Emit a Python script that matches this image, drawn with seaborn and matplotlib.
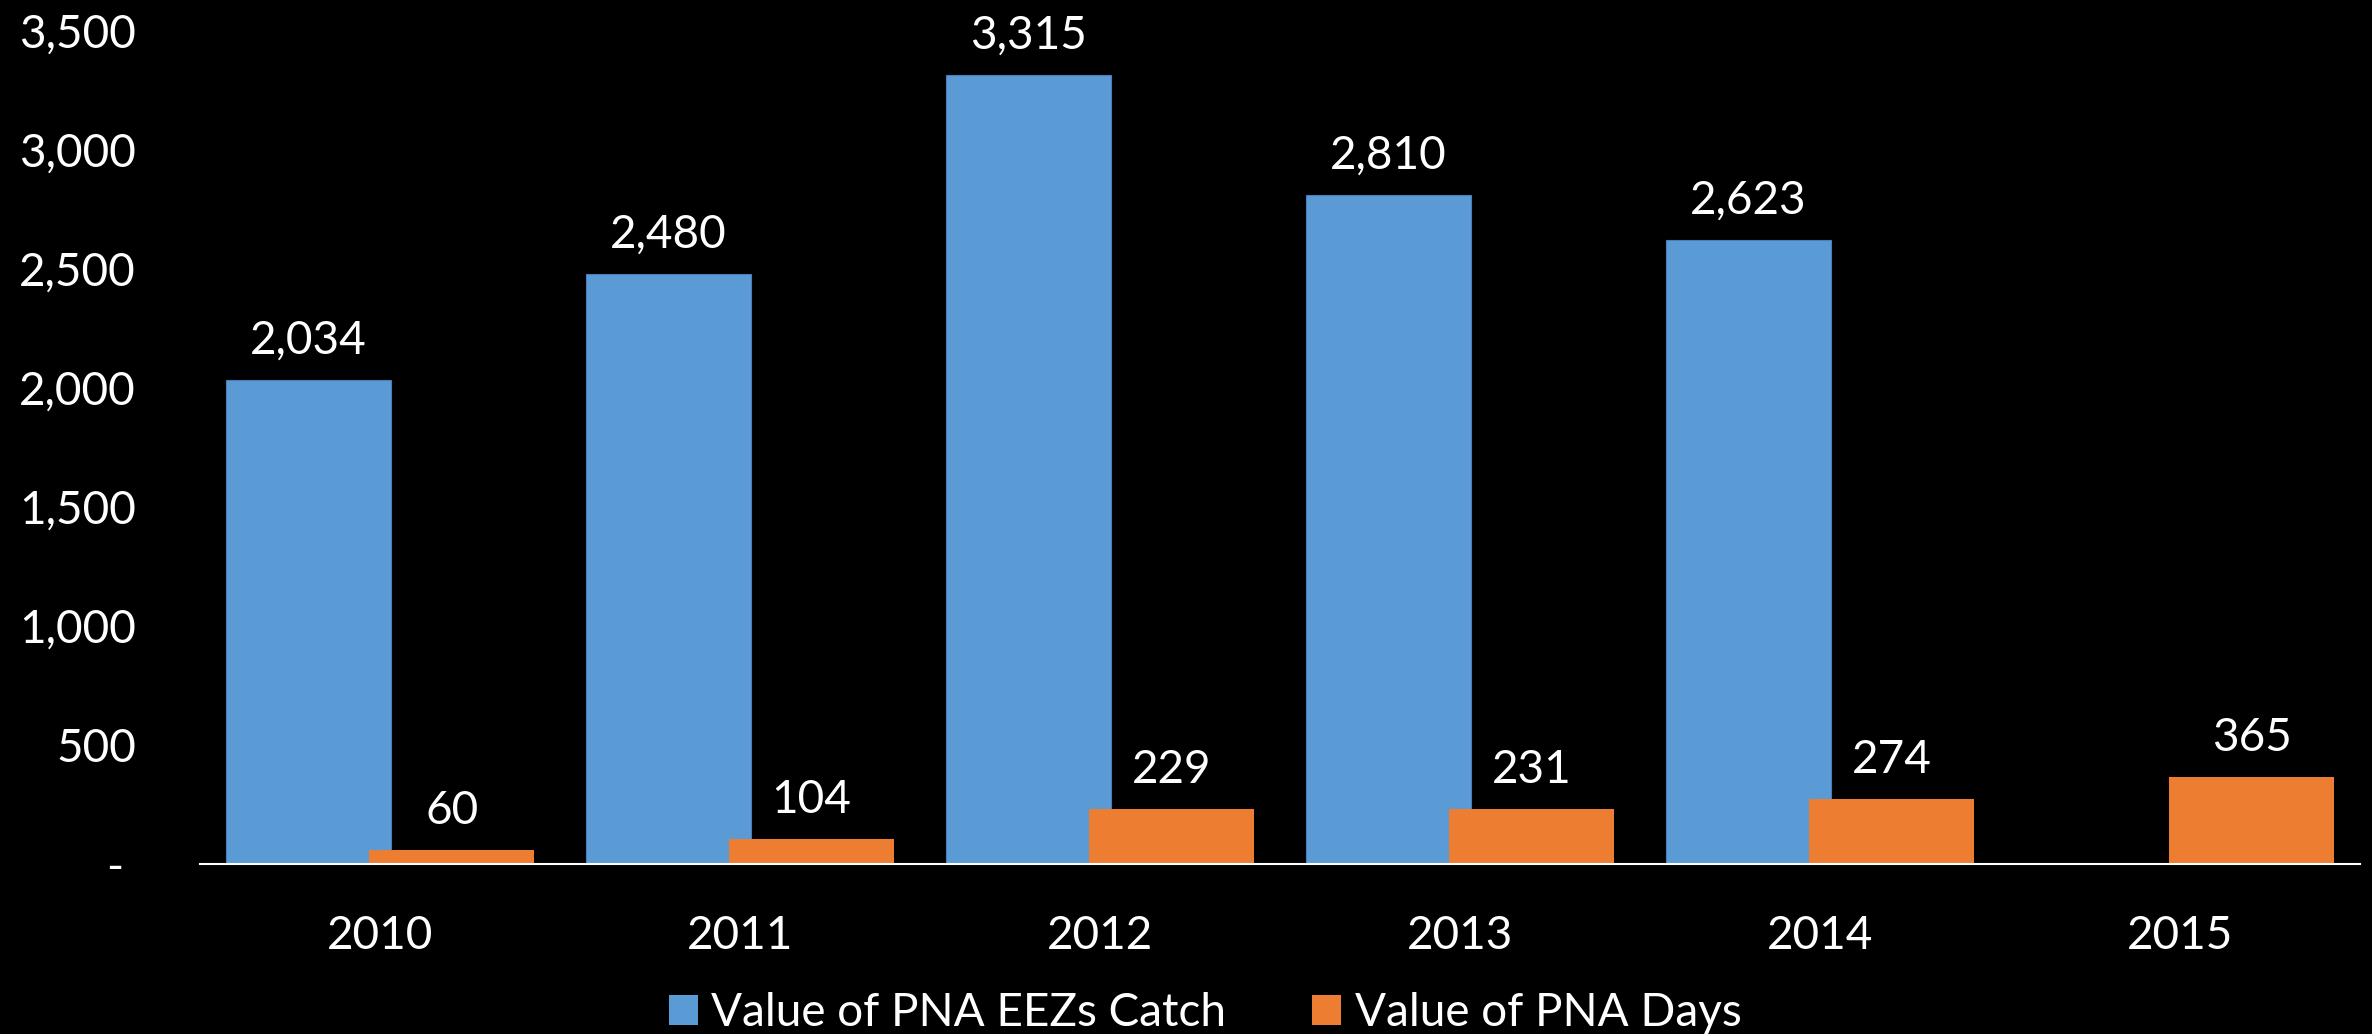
import numpy as np
import pandas as pd
import matplotlib
matplotlib.use("Agg")
import matplotlib.pyplot as plt
import seaborn as sns

# values
years = ['2010', '2011', '2012', '2013', '2014', '2015']
eez_catch = [2034, 2480, 3315, 2810, 2623, np.nan]
pna_days = [60, 104, 229, 231, 274, 365]
series_names = ['Value of PNA EEZs Catch', 'Value of PNA Days']
series_colors = ['#5B9BD5', '#ED7D31']
y_ticks = [0, 500, 1000, 1500, 2000, 2500, 3000, 3500]

settings = {
    'figsize': (23.72, 10.34),
    'dpi': 100,
    'face_color': 'black',
    'font_color': 'white',
    'font_size': 33,
    'bar_width': 0.458,
}

sns.set_style('dark')
plt.rcParams['font.family'] = ['Lato', 'DejaVu Sans']

df = pd.DataFrame({
    'year': years * 2,
    'series': [series_names[0]] * len(years) + [series_names[1]] * len(years),
    'value': eez_catch + pna_days,
}).dropna()

fig = plt.figure(figsize=settings['figsize'], dpi=settings['dpi'])
fig.patch.set_facecolor(settings['face_color'])
ax = fig.add_axes([200 / 2372, 1 - 864 / 1034, 2160 / 2372, (864 - 31) / 1034])
ax.set_facecolor(settings['face_color'])

sns.barplot(
    data=df, x='year', y='value', hue='series',
    order=years, hue_order=series_names,
    palette=series_colors, saturation=1,
    width=0.796, ax=ax,
)

# widen bars so the pair overlaps a little, like the original
for cont, ec in zip(ax.containers, ['#4A7EBB', 'none']):
    for bar in cont:
        cx = bar.get_x() + bar.get_width() / 2
        bar.set_width(settings['bar_width'])
        bar.set_x(cx - settings['bar_width'] / 2)
        bar.set_edgecolor(ec)
        bar.set_linewidth(0.8)
    ax.bar_label(cont, labels=[f'{v:,.0f}' for v in cont.datavalues],
                 padding=13, color=settings['font_color'],
                 fontsize=settings['font_size'], clip_on=False)

ax.set_xlim(-0.5, 5.5)
ax.set_ylim(0, 3500)
ax.set_yticks(y_ticks)
ax.set_yticklabels(['- '] + [f'{v:,}' for v in y_ticks[1:]])
ax.set_xlabel('')
ax.set_ylabel('')
ax.grid(False)

for side in ['top', 'left', 'right']:
    ax.spines[side].set_visible(False)
ax.spines['bottom'].set_visible(True)
ax.spines['bottom'].set_color('white')
ax.spines['bottom'].set_linewidth(1.5)

ax.tick_params(axis='x', length=0, pad=37, colors=settings['font_color'],
               labelsize=settings['font_size'])
ax.tick_params(axis='y', length=0, pad=46, colors=settings['font_color'],
               labelsize=settings['font_size'])

sns.move_legend(
    ax, 'center', bbox_to_anchor=(1205 / 2372, 1 - 1013 / 1034),
    bbox_transform=fig.transFigure, ncol=2, frameon=False, title=None,
    fontsize=settings['font_size'], handlelength=0.63, handleheight=0.65,
    handletextpad=0.3, columnspacing=1.87, labelcolor=settings['font_color'],
)
for h in ax.get_legend().legend_handles:
    h.set_edgecolor('none')

fig.savefig('out.png', dpi=settings['dpi'], facecolor=settings['face_color'])
plt.close()
